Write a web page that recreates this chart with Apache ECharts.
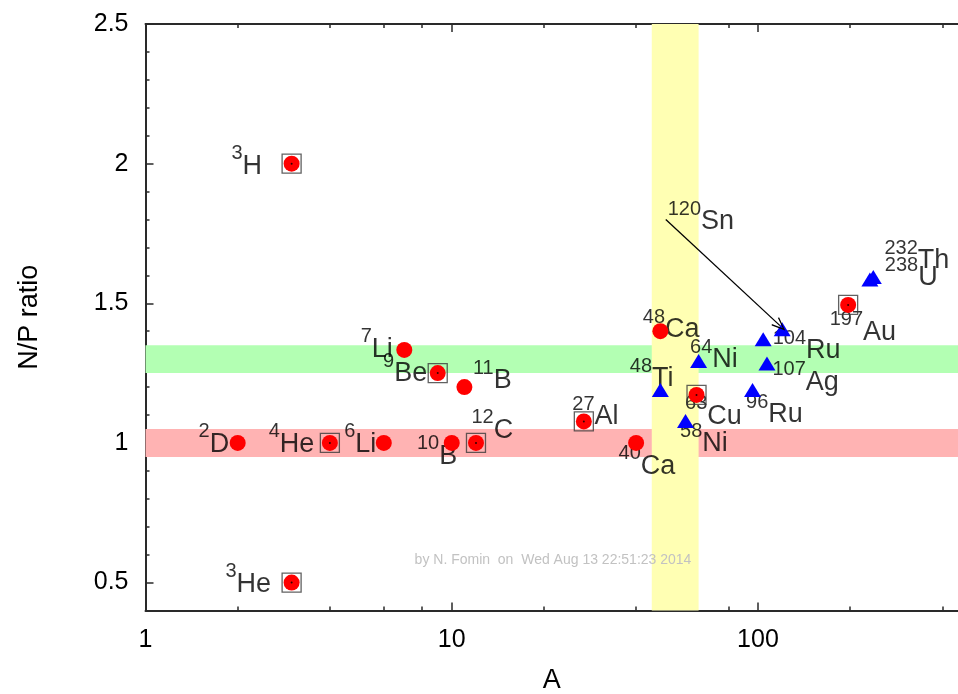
<!DOCTYPE html>
<html>
<head>
<meta charset="utf-8">
<title>N/P ratio vs A</title>
<script src="https://cdn.jsdelivr.net/npm/echarts@6/dist/echarts.min.js"></script>
<style>
  html, body { margin: 0; padding: 0; background: #fff; }
  #chart { width: 958px; height: 694px; }
</style>
</head>
<body>
<div id="chart"></div>
<script>
// Nuclides: mass number, element symbol and neutron/proton ratio
const nuclide = ['2D', '3H', '3He', '4He', '6Li', '7Li', '9Be', '10B', '11B', '12C', '27Al', '40Ca',
  '48Ca', '48Ti', '58Ni', '63Cu', '64Ni', '96Ru', '104Ru', '107Ag', '120Sn', '197Au', '232Th', '238U'];
const massNumber = [2, 3, 3, 4, 6, 7, 9, 10, 11, 12, 27, 40, 48, 48, 58, 63, 64, 96, 104, 107, 120, 197, 232, 238];
const elementSymbol = ['D', 'H', 'He', 'He', 'Li', 'Li', 'Be', 'B', 'B', 'C', 'Al', 'Ca',
  'Ca', 'Ti', 'Ni', 'Cu', 'Ni', 'Ru', 'Ru', 'Ag', 'Sn', 'Au', 'Th', 'U'];
const npRatio = [1, 2, 0.5, 1, 1, 1.333, 1.25, 1, 1.2, 1, 1.077, 1,
  1.4, 1.182, 1.071, 1.172, 1.286, 1.182, 1.364, 1.277, 1.4, 1.494, 1.578, 1.587];

// Which nuclides are drawn as blue triangles, and which get a box around them
const triangleNuclides = ['48Ti', '58Ni', '64Ni', '96Ru', '104Ru', '107Ag', '120Sn', '232Th', '238U'];
const boxedNuclides = ['3H', '3He', '4He', '9Be', '12C', '27Al', '63Cu', '197Au'];

// Shaded bands: N/P ranges and an A range
const npBandLow = [0.95, 1.05];
const npBandHigh = [1.25, 1.35];
const massBand = [45, 64];

// Arrow pointing at 120Sn from its label
const arrowFrom = [50, 1.8];
const arrowTo = [118, 1.42];

// Tick values
const xTicksMajor = [1, 10, 100];
const xTicksMinor = [2, 4, 6, 8, 20, 40, 60, 80, 200, 400];
const yTicksMajor = [0.5, 1, 1.5, 2, 2.5];
const yTicksMinor = [0.6, 0.7, 0.8, 0.9, 1.1, 1.2, 1.3, 1.4, 1.6, 1.7, 1.8, 1.9, 2.1, 2.2, 2.3, 2.4];

const footerText = 'by N. Fomin  on  Wed Aug 13 22:51:23 2014';

// Label placement relative to each marker: [dx, dy, align]
const labelPlace = {
  '2D': [-8, 2, 'right'], '3H': [-29, 3, 'right'], '3He': [-20, 2, 'right'], '4He': [-15, 2, 'right'],
  '6Li': [-7, 2, 'right'], '7Li': [-11, 0, 'right'], '9Be': [-10, 1, 'right'], '10B': [6, 14, 'right'],
  '11B': [9, -6, 'left'], '12C': [-4, -12, 'left'], '27Al': [-11, -4, 'left'], '40Ca': [-17, 24, 'left'],
  '48Ca': [-17, -1, 'left'], '48Ti': [-30, -13, 'left'], '58Ni': [-5, 21, 'left'], '63Cu': [-11, 22, 'left'],
  '64Ni': [-8, -3, 'left'], '96Ru': [-6, 23, 'left'], '104Ru': [10, 10, 'left'], '107Ag': [6, 17, 'left'],
  '120Sn': [-114, -109, 'left'], '197Au': [-18, 28, 'left'], '232Th': [15, -20, 'left'], '238U': [12, -1, 'left']
};

const FONT = "'Liberation Sans', Arial, Helvetica, sans-serif";
const AXIS_COLOR = '#2a2a2a';
const TEXT_COLOR = '#000';

const points = nuclide.map((name, i) => ({ name, value: [massNumber[i], npRatio[i]] }));
const circlePts = points.filter(p => !triangleNuclides.includes(p.name));
const trianglePts = points.filter(p => triangleNuclides.includes(p.name));
const boxedPts = points.filter(p => boxedNuclides.includes(p.name));

const labelPts = nuclide.map((name, i) => {
  const [dx, dy, align] = labelPlace[name];
  return {
    name,
    value: [massNumber[i], npRatio[i]],
    label: {
      show: true,
      position: [dx, dy],
      align,
      verticalAlign: 'middle',
      formatter: '{s|' + (elementSymbol[i] === 'D' ? 2 : massNumber[i]) + '}{e|' + elementSymbol[i] + '}'
    }
  };
});

function xAxisLayer(position, ticks, len, withLine, withLabels) {
  return {
    type: 'log', logBase: 10, min: 1, max: 450, position,
    axisLine: { show: withLine, onZero: false, lineStyle: { color: AXIS_COLOR, width: 2 } },
    axisTick: { show: true, inside: true, length: len, customValues: ticks,
      lineStyle: { color: AXIS_COLOR, width: 1.5 } },
    axisLabel: withLabels
      ? { show: true, customValues: ticks, margin: 17, fontSize: 25, color: TEXT_COLOR, fontFamily: FONT }
      : { show: false },
    splitLine: { show: false },
    minorTick: { show: false },
    minorSplitLine: { show: false }
  };
}

function yAxisLayer(ticks, len, withLine, withLabels) {
  return {
    type: 'value', min: 0.4, max: 2.5, position: 'left',
    axisLine: { show: withLine, onZero: false, lineStyle: { color: AXIS_COLOR, width: 2 } },
    axisTick: { show: true, inside: true, length: len, customValues: ticks,
      lineStyle: { color: AXIS_COLOR, width: 1.5 } },
    axisLabel: withLabels
      ? { show: true, customValues: ticks, margin: 17, fontSize: 25, color: TEXT_COLOR, fontFamily: FONT }
      : { show: false },
    splitLine: { show: false },
    minorTick: { show: false }
  };
}

const xBottom = xAxisLayer('bottom', xTicksMajor, 8, true, true);
xBottom.name = 'A';
xBottom.nameLocation = 'middle';
xBottom.nameGap = 57;
xBottom.nameTextStyle = { fontSize: 27, color: TEXT_COLOR, fontFamily: FONT };

const yLeft = yAxisLayer(yTicksMajor, 8, true, true);
yLeft.name = 'N/P ratio';
yLeft.nameLocation = 'middle';
yLeft.nameRotate = 90;
yLeft.nameGap = 102;
yLeft.nameTextStyle = { fontSize: 27, color: TEXT_COLOR, fontFamily: FONT };

const option = {
  animation: false,
  backgroundColor: '#fff',
  grid: { left: 145.5, right: 0, top: 24, bottom: 83.5, containLabel: false, outerBoundsMode: 'none' },
  xAxis: [
    xBottom,
    xAxisLayer('bottom', xTicksMinor, 4, false, false),
    xAxisLayer('top', xTicksMajor, 8, true, false),
    xAxisLayer('top', xTicksMinor, 4, false, false)
  ],
  yAxis: [
    yLeft,
    yAxisLayer(yTicksMinor, 4, false, false)
  ],
  graphic: [{
    type: 'text', x: 553, y: 560, z: 10,
    style: { text: footerText, fill: '#c2c2c2', font: '14px ' + FONT, align: 'center', verticalAlign: 'middle' }
  }],
  series: [
    {
      name: 'labels', type: 'scatter', z: 2, silent: true,
      symbol: 'circle', symbolSize: 1,
      itemStyle: { color: 'rgba(0,0,0,0)' },
      emphasis: { disabled: true },
      label: {
        color: TEXT_COLOR, fontFamily: FONT,
        rich: {
          s: { fontSize: 20, lineHeight: 20, verticalAlign: 'top', fontFamily: FONT, color: TEXT_COLOR },
          e: { fontSize: 27, lineHeight: 45, verticalAlign: 'middle', fontFamily: FONT, color: TEXT_COLOR }
        }
      },
      data: labelPts,
      markArea: {
        silent: true,
        data: [
          [{ yAxis: npBandLow[0], itemStyle: { color: '#ffb3b3', opacity: 1 } }, { yAxis: npBandLow[1] }],
          [{ yAxis: npBandHigh[0], itemStyle: { color: '#b3ffb3', opacity: 1 } }, { yAxis: npBandHigh[1] }],
          [{ xAxis: massBand[0], itemStyle: { color: '#ffffb3', opacity: 1 } }, { xAxis: massBand[1] }]
        ]
      }
    },
    {
      name: 'light', type: 'scatter', z: 3, silent: true,
      symbol: 'circle', symbolSize: 16,
      itemStyle: { color: '#ff0000', opacity: 1 },
      emphasis: { disabled: true },
      data: circlePts
    },
    {
      name: 'heavy', type: 'scatter', z: 3, silent: true,
      symbol: 'triangle', symbolSize: [17, 14], symbolOffset: [0, -2],
      itemStyle: { color: '#0000ff', opacity: 1 },
      emphasis: { disabled: true },
      data: trianglePts,
      markLine: {
        silent: true,
        symbol: ['none', 'path://M5,0L10,11L9,11.7L5,2.6L1,11.7L0,11Z'],
        symbolSize: [11, 14],
        lineStyle: { color: '#000', width: 1.3, type: 'solid' },
        label: { show: false },
        data: [[{ coord: arrowFrom }, { coord: arrowTo }]]
      }
    },
    {
      name: 'boxed', type: 'scatter', z: 4, silent: true,
      symbol: 'rect', symbolSize: 19,
      itemStyle: { color: 'rgba(0,0,0,0)', borderColor: '#3a3a3a', borderWidth: 1.3 },
      emphasis: { disabled: true },
      data: boxedPts
    },
    {
      name: 'centres', type: 'scatter', z: 5, silent: true,
      symbol: 'circle', symbolSize: 2,
      itemStyle: { color: '#000' },
      emphasis: { disabled: true },
      data: boxedPts
    }
  ]
};

const chart = echarts.init(document.getElementById('chart'), null, { renderer: 'canvas' });
chart.setOption(option);
</script>
</body>
</html>
